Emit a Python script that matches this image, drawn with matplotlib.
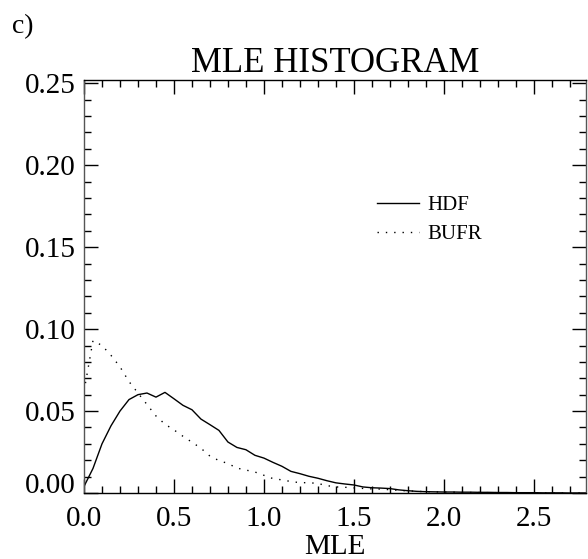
import numpy as np
import matplotlib
matplotlib.use("Agg")
import matplotlib.pyplot as plt
from matplotlib.ticker import MultipleLocator

# DATOS
mle = np.round(np.arange(0, 2.801, 0.05), 2)

hdf = [0.0040, 0.0150, 0.0300, 0.0410, 0.0500, 0.0570, 0.0600, 0.0610, 0.0585, 0.0614,
       0.0575, 0.0535, 0.0508, 0.0451, 0.0417, 0.0382, 0.0311, 0.0278, 0.0264, 0.0230,
       0.0213, 0.0187, 0.0163, 0.0132, 0.0118, 0.0102, 0.0090, 0.0075, 0.0062, 0.0055,
       0.0049, 0.0037, 0.0032, 0.0030, 0.0027, 0.0019, 0.0014, 0.0010, 0.0008, 0.0007,
       0.0006, 0.0006, 0.0005, 0.0005, 0.0004, 0.0004, 0.0003, 0.0003, 0.0002, 0.0002,
       0.0002, 0.0001, 0.0001, 0.0001, 0.0000, 0.0000, 0.0000]

bufr = [0.0620, 0.0930, 0.0900, 0.0840, 0.0770, 0.0680, 0.0610, 0.0540, 0.0470, 0.0420,
        0.0385, 0.0346, 0.0310, 0.0273, 0.0225, 0.0198, 0.0180, 0.0152, 0.0140, 0.0128,
        0.0108, 0.0088, 0.0080, 0.0070, 0.0063, 0.0063, 0.0058, 0.0045, 0.0037, 0.0035,
        0.0031, 0.0028, 0.0025, 0.0024, 0.0020, 0.0016, 0.0013, 0.0010, 0.0008, 0.0007,
        0.0006, 0.0005, 0.0004, 0.0003, 0.0003, 0.0002, 0.0002, 0.0001, 0.0001, 0.0001,
        0.0001, 0.0000, 0.0000, 0.0000, 0.0000, 0.0000, 0.0000]

xticks = [0.0, 0.5, 1.0, 1.5, 2.0, 2.5]
yticks = [0.00, 0.05, 0.10, 0.15, 0.20, 0.25]

plt.rcParams['font.family'] = ['Liberation Serif', 'DejaVu Serif']

fig = plt.figure(figsize=(5.88, 5.59), dpi=100)
ax = fig.add_axes([84 / 588, 66 / 559, 502 / 588, 413 / 559])

ax.plot(mle, hdf, color='black', lw=1.0, label='HDF')
ax.plot(mle, bufr, color='black', lw=1.0, ls=(0, (1, 5)), label='BUFR')

ax.set_xlim(0, 2.79)
ax.set_ylim(0, 0.252)
ax.set_xticks(xticks)
ax.set_xticklabels([f"{v:.1f}" for v in xticks])
ax.set_yticks(yticks)
ax.set_yticklabels([f"{v:.2f}" for v in yticks])
ax.xaxis.set_minor_locator(MultipleLocator(0.1))
ax.yaxis.set_minor_locator(MultipleLocator(0.01))
ax.tick_params(which='both', direction='in', top=True, right=True, labelsize=21)
ax.tick_params(axis='x', pad=9)
ax.tick_params(axis='y', pad=6)
ax.tick_params(which='major', length=10, width=1)
ax.tick_params(which='minor', length=5, width=1)
for s in ax.spines.values():
    s.set_linewidth(1)
ax.spines['left'].set_color('#555555')
ax.spines['right'].set_color('#555555')

# etiqueta 0.00 algo subida, como en el original
ax.get_yticklabels()[0].set_va('baseline')

ax.set_title("MLE HISTOGRAM", fontsize=25, pad=3)
ax.set_xlabel("MLE", fontsize=21, labelpad=2)

# leyenda
leg = ax.legend(loc='upper left', bbox_to_anchor=(0.547, 0.765), frameon=False,
                fontsize=15, handlelength=2.0, handletextpad=0.4, labelspacing=0.45)

fig.text(0.02, 0.975, "c)", fontsize=20, va='top', ha='left')

fig.savefig("out.png", dpi=100)
